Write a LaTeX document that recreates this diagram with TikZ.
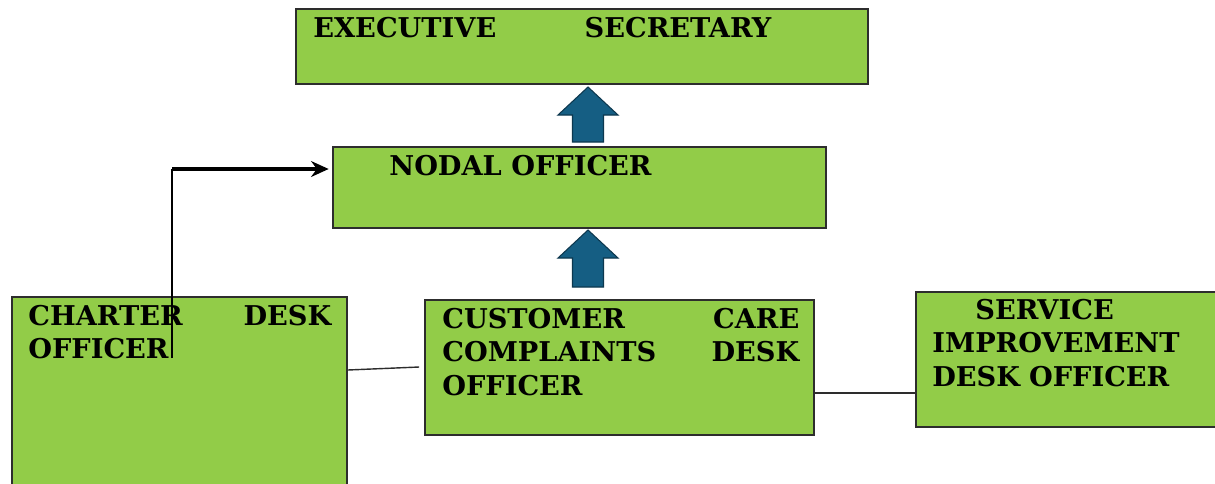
\documentclass[tikz,border=0pt]{standalone}
\usepackage{fontspec}
\setmainfont{DejaVu Serif}
\usepackage{tikz}
\usetikzlibrary{calc,arrows.meta}
\definecolor{deskgreen}{RGB}{146,204,72}
\definecolor{arrowblue}{RGB}{21,94,131}
\definecolor{edgegray}{RGB}{45,45,45}
\tikzset{
	deskbox/.style={draw=edgegray, line width=0.9pt, fill=deskgreen, rectangle, inner sep=0pt},
	desktext/.style={anchor=north west, inner sep=0pt, align=left, font=\fontsize{15.5pt}{19pt}\selectfont\bfseries},
	deskline/.style={draw=edgegray, line width=0.8pt},
	bluearrow/.style={fill=arrowblue, draw=arrowblue!60!black, line width=0.6pt, line join=miter}
}

\begin{document}
\begin{tikzpicture}
		%%%%% START %%%%%
		
		\useasboundingbox (0, 0) rectangle (24.3, -9.66);
		\clip (0, 0) rectangle (24.3, -9.66);
		\fill[white] (0, 0) rectangle (24.3, -9.66);
		
		\node[deskbox, minimum width=11.44cm, minimum height=1.5cm] (exec) at (11.64, -0.93) {};
		\node[deskbox, minimum width=9.86cm, minimum height=1.62cm] (nodal) at (11.59, -3.75) {};
		\node[deskbox, minimum width=6.7cm, minimum height=3.96cm] (charter) at (3.59, -7.92) {};
		\node[deskbox, minimum width=7.78cm, minimum height=2.7cm] (customer) at (12.39, -7.35) {};
		\node[deskbox, minimum width=6.18cm, minimum height=2.7cm] (service) at (21.41, -7.19) {};
		
		\node[desktext, text width=9.16cm] (exectext) at (6.26, -0.34) {EXECUTIVE\hfill SECRETARY};
		\node[desktext] (nodaltext) at (7.78, -3.10) {NODAL OFFICER};
		\node[desktext, text width=6.06cm] (chartertext) at (0.56, -6.10) {CHARTER\hfill DESK\\OFFICER};
		\node[desktext, text width=7.14cm] (customertext) at (8.84, -6.16) {CUSTOMER\hfill CARE\\COMPLAINTS\hfill DESK\\OFFICER};
		\node[desktext, text width=5.0cm] (servicetext) at (18.64, -5.98) {\hspace*{0.86cm}SERVICE\\IMPROVEMENT\\DESK OFFICER};
		
		% block arrows between the levels
		\foreach \tip/\bot in {-1.74/-2.84, -4.60/-5.74}
		{
			\draw[bluearrow] (11.45, \bot) -- (11.45, \tip-0.56) -- (11.16, \tip-0.56) -- (11.76, \tip)
				-- (12.36, \tip-0.56) -- (12.07, \tip-0.56) -- (12.07, \bot) -- cycle;
		}
		
		% charter desk to nodal officer
		\coordinate (charterstart) at (3.44, -7.16);
		\coordinate (charterbend) at (3.44, -3.38);
		\draw[line width=0.8pt] (charterstart) -- (charterbend);
		\draw[line width=2pt, -{Stealth[length=10pt, width=9pt]}] (charterbend) -- ([xshift=-2pt]nodal.west |- charterbend);
		
		\draw[deskline] (charter.east |- 0, -7.40) -- ([xshift=-0.1cm]customer.west |- 0, -7.34);
		\draw[deskline] (customer.east |- 0, -7.86) -- (service.west |- 0, -7.86);
		
		%%%%% END %%%%%
	\end{tikzpicture}
\end{document}
